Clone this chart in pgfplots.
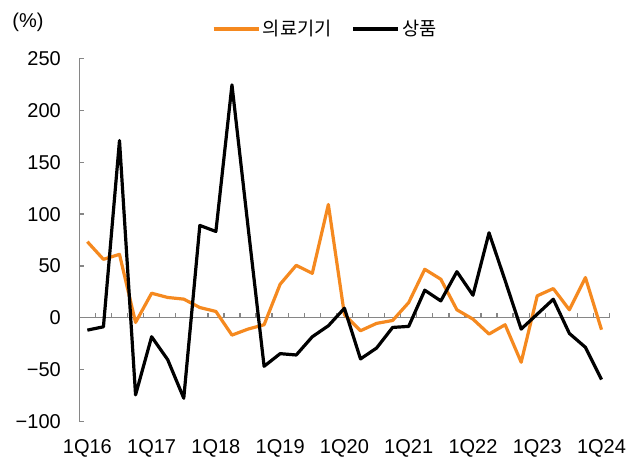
\documentclass[border=0pt]{standalone}
\usepackage{fontspec}
\setmainfont{Liberation Sans}
\newfontfamily\kr{Noto Sans CJK KR}
\usepackage{pgfplots}
\pgfplotsset{compat=1.18}
\definecolor{myorange}{RGB}{245,137,31}
\definecolor{axgray}{RGB}{134,134,134}
\begin{document}
\begin{tikzpicture}
\path[use as bounding box] (-59.5pt,-30.4pt) rectangle (421.3pt,316.1pt);
\begin{axis}[
 at={(0,0)}, anchor=south west,
 scale only axis, width=397.7pt, height=272.1pt,
 xmin=-0.5, xmax=32.5, ymin=-100, ymax=250,
 axis x line=middle, axis y line=left,
 axis line style={-, axgray, line width=1pt},
 ytick={-100,-50,...,250},
 yticklabels={−100,−50,0,50,100,150,200,250},
 xtick={0.5,1.5,...,32.5},
 xticklabels={},
 tick style={axgray, line width=1pt},
 major tick length=3.75pt,
 tick align=inside,
 yticklabel style={anchor=east, inner sep=0pt, xshift=-13.7pt, font=\fontsize{15}{18}\selectfont},
 /pgf/number format/assume math mode=true,
 clip=false,
 legend columns=2,
 legend style={at={(0.2497,1.0819)}, anchor=west, draw=none, fill=none,
   font=\kr\fontsize{14}{16}\selectfont, inner sep=0pt,
   nodes={inner sep=2pt},
   /tikz/every even column/.append style={column sep=13pt}},
 legend image code/.code={\draw[#1] (0pt,0pt) -- (33.75pt,0pt);},
]
\addplot[myorange, line width=2.4pt, line join=round, no marks] coordinates {
(0,73.4)(1,56.4)(2,61.2)(3,-4.5)(4,23.7)(5,19.6)(6,18)(7,9.9)(8,6.1)(9,-16.7)
(10,-10.9)(11,-6.7)(12,32.4)(13,50.6)(14,42.9)(15,109.3)(16,3)(17,-12.5)(18,-5.4)(19,-2.6)
(20,14.7)(21,46.8)(22,37.2)(23,7.7)(24,-1.3)(25,-15.7)(26,-6.7)(27,-42.9)(28,21.2)(29,28.2)
(30,7.7)(31,38.8)(32,-11.5)};
\addlegendentry{의료기기}
\addplot[black, line width=2.4pt, line join=round, no marks] coordinates {
(0,-11.9)(1,-8.7)(2,171)(3,-74.4)(4,-18.3)(5,-40.4)(6,-77.6)(7,89.1)(8,83.3)(9,224.7)
(10,88)(11,-46.8)(12,-34.6)(13,-35.9)(14,-18.3)(15,-7.7)(16,9.2)(17,-39.7)(18,-29.2)(19,-9.3)
(20,-8.3)(21,26.6)(22,16.3)(23,44.5)(24,21.8)(25,82)(26,36)(27,-10.9)(28,3.5)(29,17.9)
(30,-15.1)(31,-28.5)(32,-59.6)};
\addlegendentry{상품}
\node[anchor=base, font=\fontsize{15}{18}\selectfont, yshift=-24.4pt] at (axis cs:0,-100) {1Q16};
\node[anchor=base, font=\fontsize{15}{18}\selectfont, yshift=-24.4pt] at (axis cs:4,-100) {1Q17};
\node[anchor=base, font=\fontsize{15}{18}\selectfont, yshift=-24.4pt] at (axis cs:8,-100) {1Q18};
\node[anchor=base, font=\fontsize{15}{18}\selectfont, yshift=-24.4pt] at (axis cs:12,-100) {1Q19};
\node[anchor=base, font=\fontsize{15}{18}\selectfont, yshift=-24.4pt] at (axis cs:16,-100) {1Q20};
\node[anchor=base, font=\fontsize{15}{18}\selectfont, yshift=-24.4pt] at (axis cs:20,-100) {1Q21};
\node[anchor=base, font=\fontsize{15}{18}\selectfont, yshift=-24.4pt] at (axis cs:24,-100) {1Q22};
\node[anchor=base, font=\fontsize{15}{18}\selectfont, yshift=-24.4pt] at (axis cs:28,-100) {1Q23};
\node[anchor=base, font=\fontsize{15}{18}\selectfont, yshift=-24.4pt] at (axis cs:32,-100) {1Q24};
\end{axis}
\node[font=\fontsize{15}{18}\selectfont] at (-38.5pt,299.6pt) {(\%)};
\end{tikzpicture}
\end{document}
